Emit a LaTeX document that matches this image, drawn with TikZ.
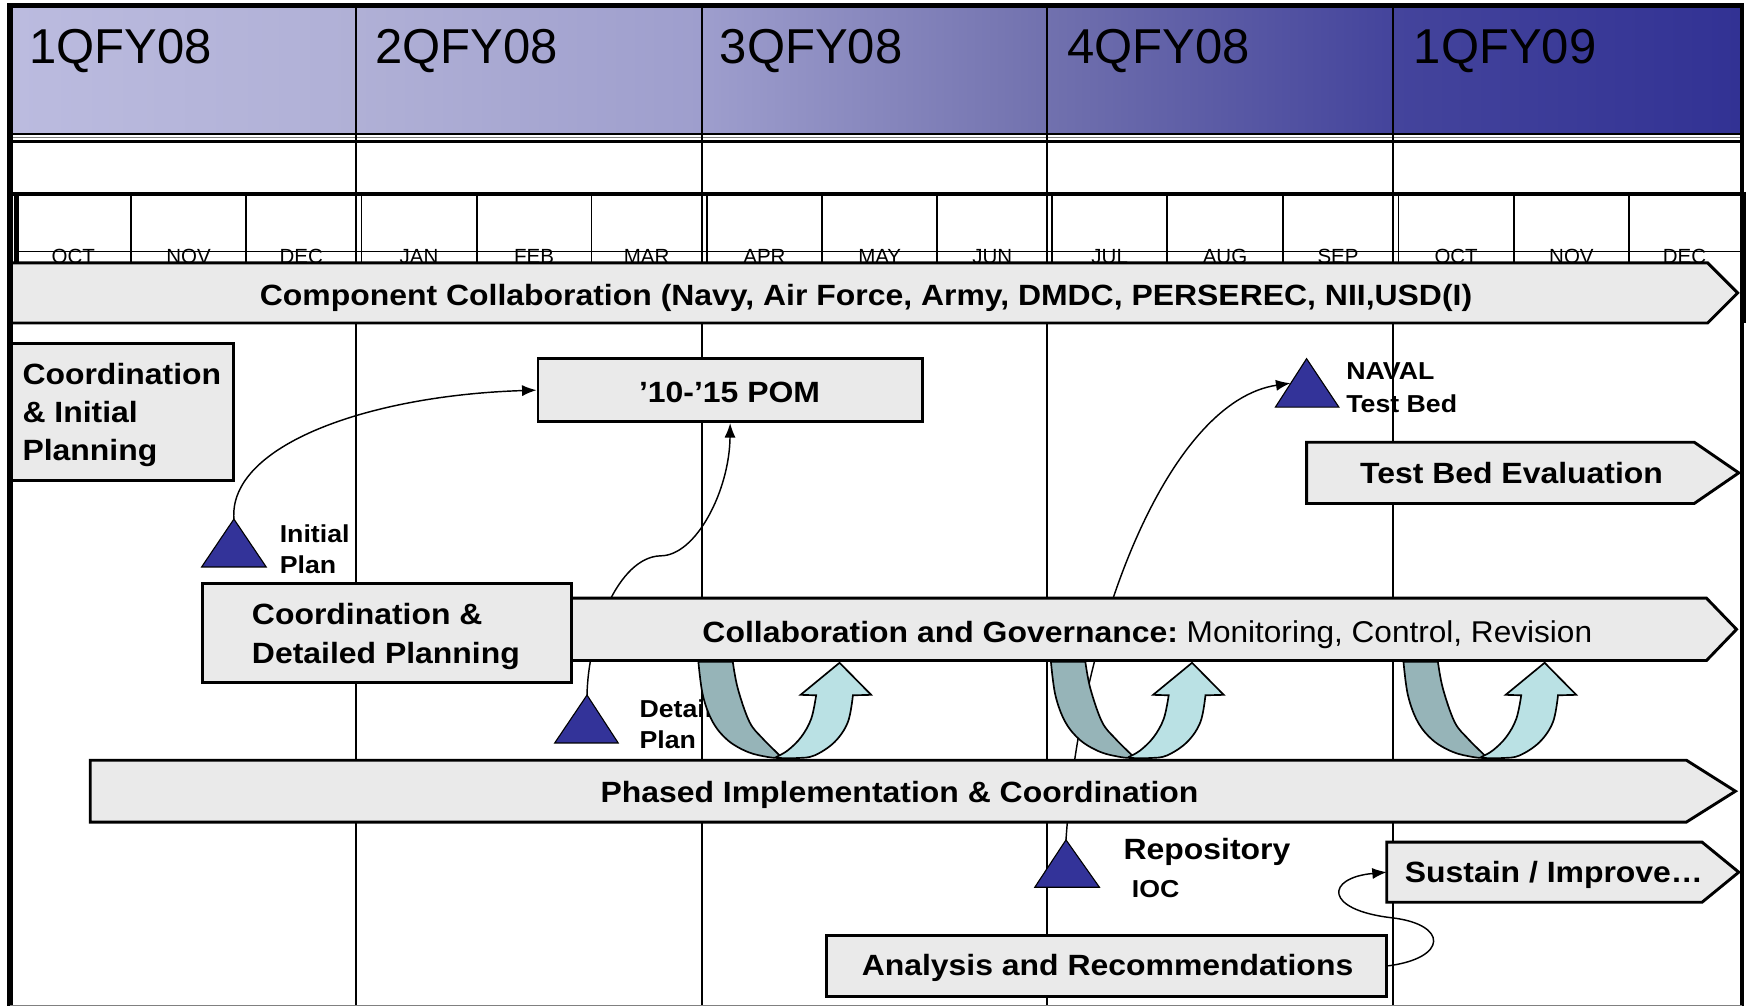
\documentclass[tikz,border=0pt]{standalone}
\usepackage{fontspec}
\setmainfont{Liberation Sans}
\newfontfamily\bsans[FakeStretch=1.09]{Liberation Sans}
\newfontfamily\rsans[FakeStretch=1.05]{Liberation Sans}
\usetikzlibrary{arrows.meta}
\definecolor{boxfill}{RGB}{234,234,234}
\definecolor{tri}{RGB}{51,51,153}
\definecolor{udark}{RGB}{150,180,184}
\definecolor{ulight}{RGB}{186,225,228}
\definecolor{h0}{RGB}{187,187,223}
\definecolor{h1}{RGB}{176,176,214}
\definecolor{h2}{RGB}{158,158,205}
\definecolor{h3}{RGB}{113,113,174}
\definecolor{h4}{RGB}{68,68,156}
\definecolor{h5}{RGB}{50,50,148}
\pgfdeclarelayer{grid}
\pgfdeclarelayer{conns}
\pgfsetlayers{grid,conns,main}
\tikzset{
  qline/.style={line width=1.8pt},
  mline/.style={line width=1.6pt},
  box/.style={draw=black, line width=2.6pt, fill=boxfill, inner sep=0pt},
  hdrtxt/.style={font=\fontsize{44}{50}\selectfont, anchor=base west, inner sep=0pt},
  montxt/.style={font=\fontsize{18.4}{20}\selectfont, anchor=base, inner sep=0pt},
  boxtxt/.style={font=\bsans\bfseries\fontsize{26.3}{34}\selectfont, inner sep=0pt, anchor=base},
  multitxt/.style={font=\bsans\bfseries\fontsize{26.3}{34}\selectfont, inner sep=0pt, anchor=base west, align=left},
  lbltxt/.style={font=\bsans\bfseries\fontsize{22}{28}\selectfont, inner sep=0pt, anchor=base west, align=left},
  milestone/.style={fill=tri, draw=black, line width=1pt},
  conn/.style={line width=1.3pt, -{Latex[length=13pt,width=10pt]}},
  uback/.style={fill=udark, draw=black, line width=1.5pt},
  ufront/.style={fill=ulight, draw=black, line width=1.5pt},
}
\newcommand\uarrowat[1]{%
  \begin{scope}[shift={(#1,0)}]
    \path[uback] plot[smooth, tension=0.6] coordinates {(0,594.2) (4,624.2) (12.9,648.2) (26.4,664.6) (44.4,675.1) (62.3,679.6) (72.8,680.5)}
      -- (74,679.5)
      -- plot[smooth, tension=0.6] coordinates {(74,679.5) (71.3,676.6) (57.8,663.1) (45.9,648.2) (35.4,618.2) (30.9,594.2)} -- cycle;
    \path[ufront] plot[smooth, tension=0.6] coordinates {(70,679.5) (80.3,673.6) (92.3,661.6) (101.3,645.2) (105.7,624.2)}
      -- (91.7,623.8) -- (126.7,595) -- (155.1,623.8) -- (138.7,624.2)
      -- plot[smooth, tension=0.6] coordinates {(138.7,624.2) (134.2,648.2) (122.2,666.2) (104.2,678.2) (89.3,680.5) (72.8,680.5) (70,679.5)}
      -- cycle;
  \end{scope}}
\begin{document}
\begin{tikzpicture}[x=1pt,y=-1pt]
\useasboundingbox (0,0) rectangle (1567.5,903.2);
\begin{pgfonlayer}{grid}
\fill[white] (0,0) rectangle (1567.5,903.2);
% header gradient
\shade[left color=h0,right color=h1] (12,7) rectangle (320,120);
\shade[left color=h1,right color=h2] (320,7) rectangle (630,120);
\shade[left color=h2,right color=h3] (630,7) rectangle (940,120);
\shade[left color=h3,right color=h4] (940,7) rectangle (1251,120);
\shade[left color=h4,right color=h5] (1251,7) rectangle (1562,120);
\draw[line width=1.5pt] (12,120) -- (1562,120);
\draw[line width=0.8pt, gray] (12,123) -- (1562,123);
\draw[line width=2.5pt] (12,127) -- (1562,127);
% quarter lines
\foreach \x in {320,630,940,1251} \draw[qline] (\x,5) -- (\x,903);
% month row
\draw[line width=4pt] (12,174) -- (1568,174);
\draw[line width=4pt] (15,174) -- (15,236);
\draw[line width=6pt] (1565,174) -- (1565,290);
\foreach \x in {117.5,221,324.5,428,531,634.5,738,841.5,944.5,1048,1151.5,1255.5,1359,1462.5}
  \draw[mline] (\x,174) -- (\x,236);
\foreach \x/\m [count=\i] in {65.75/OCT,169.25/NOV,270.5/DEC,376.25/JAN,479.5/FEB,580.5/MAR,686.25/APR,789.75/MAY,890.75/JUN,996.25/JUL,1099.75/AUG,1201.25/SEP,1307.25/OCT,1410.75/NOV,1512.25/DEC}
  \node[montxt] (mo\i) at (\x,237) {\m};
\draw[line width=1.3pt] (14,226) -- (1562,226);
\end{pgfonlayer}
% header labels
\node[hdrtxt] (hq1) at (26,57) {1QFY08};
\node[hdrtxt] (hq2) at (337,57) {2QFY08};
\node[hdrtxt] (hq3) at (646,57) {3QFY08};
\node[hdrtxt] (hq4) at (958,57) {4QFY08};
\node[hdrtxt] (hq5) at (1269,57) {1QFY09};
% component collaboration bar
\path[box] (10,236) -- (1533,236) -- (1560,263) -- (1533,290) -- (10,290) -- cycle;
\node[boxtxt] (compT) at (777.5,274) {Component Collaboration (Navy, Air Force, Army, DMDC, PERSEREC, NII,USD(I)};
% boxes
\node[box, minimum width=201pt, minimum height=123pt] (cip) at (109.5,369.5) {};
\node[multitxt] (cipT) at (20,413) {Coordination\\\& Initial\\Planning};
\node[box, minimum width=345pt, minimum height=56.5pt] (pom) at (655.5,350.25) {};
\node[boxtxt] (pomT) at (655,361) {’10-’15 POM};
\path[box] (1173,397) -- (1521,397) -- (1561,424.5) -- (1521,452) -- (1173,452) -- cycle;
\node[boxtxt] (tbeT) at (1357,434) {Test Bed Evaluation};
\path[box] (480,537) -- (1532,537) -- (1559,565) -- (1532,593) -- (480,593) -- cycle;
\node[inner sep=0pt, anchor=base] (cgT) at (1030,576.5) {{\bsans\bfseries\fontsize{26.3}{34}\selectfont Collaboration and Governance:}{\rsans\fontsize{27}{34}\selectfont\ Monitoring, Control, Revision}};
\node[box, minimum width=331.5pt, minimum height=89pt] (cdp) at (347.25,568) {};
\node[multitxt, font=\bsans\bfseries\fontsize{26.3}{35}\selectfont] (cdpT) at (226,595.6) {Coordination \&\\Detailed Planning};
\path[box] (81,682.5) -- (1514,682.5) -- (1558,710.3) -- (1514,738) -- (81,738) -- cycle;
\node[boxtxt] (phT) at (807.5,720) {Phased Implementation \& Coordination};
\node[box, minimum width=503pt, minimum height=54.8pt] (ana) at (993.5,867.1) {};
\node[boxtxt] (anaT) at (994.3,875.6) {Analysis and Recommendations};
\path[box] (1245,756) -- (1528,756) -- (1561,783) -- (1528,810) -- (1245,810) -- cycle;
\coordinate (susW) at (1245,783);
\node[boxtxt, anchor=base west] (susT) at (1261,792) {Sustain / Improve…};
% milestones
\coordinate (ipA) at (210,466);
\coordinate (dpA) at (527,624);
\coordinate (rpA) at (957,754);
\coordinate (nvA) at (1173,322);
\coordinate (nvE) at (1158.5,344);
\path[milestone] (ipA) -- ++(-29,43) -- ++(58,0) -- cycle;
\path[milestone] (dpA) -- ++(-29,43) -- ++(57,0) -- cycle;
\path[milestone] (rpA) -- ++(-28,42.5) -- ++(58,0) -- cycle;
\path[milestone] (nvA) -- ++(-28,43.5) -- ++(57,0) -- cycle;
\node[lbltxt] (ipT) at (251,515) {Initial\\Plan};
\node[lbltxt] (dpT) at (574,672) {Detailed\\Plan};
\node[lbltxt, font=\bsans\bfseries\fontsize{22}{29}\selectfont] (nvT) at (1208.5,370) {NAVAL\\Test Bed};
\node[inner sep=0pt, anchor=base west, align=left, font=\bsans\bfseries\fontsize{22}{33.5}\selectfont] (rpT) at (1008.5,805.5) {{\fontsize{26.3}{33.5}\selectfont Repository}\\\hspace{7.5pt}IOC};
% connectors
\begin{pgfonlayer}{conns}
\draw[conn] (ipA) .. controls (205,400) and (330,355) .. (pom.west);
\draw[conn] (dpA) .. controls (528,570) and (555,500) .. (593,499) .. controls (625,499) and (655,440) .. (pom.south);
\draw[conn] (rpA) .. controls (970,560) and (1050,360) .. (nvE);
\draw[conn] (ana.east) .. controls (1300,860) and (1300,830) .. (1250,824) .. controls (1188,817) and (1190,788) .. (susW);
\end{pgfonlayer}
% U arrows
\uarrowat{627}
\uarrowat{943.5}
\uarrowat{1260}
% outer frame
\draw[line width=5pt] (9,3) -- (9,903.2);
\draw[line width=4pt] (7,5) -- (1566,5);
\draw[line width=4pt] (1564,3) -- (1564,903.2);
\draw[line width=1pt, gray] (9,902.6) -- (1564,902.6);
\end{tikzpicture}
\end{document}
